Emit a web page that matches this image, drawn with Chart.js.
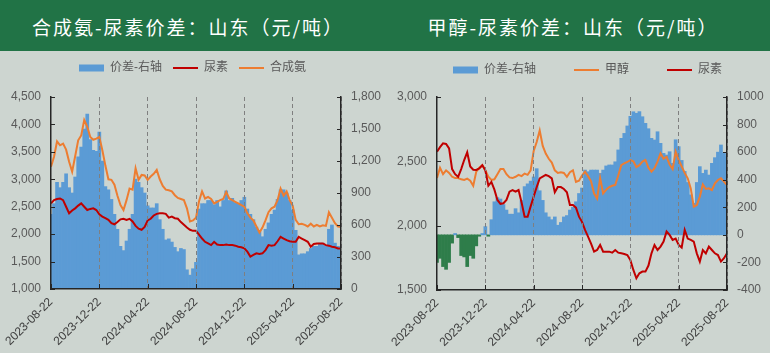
<!DOCTYPE html>
<html>
<head>
<meta charset="utf-8">
<script src="https://cdn.jsdelivr.net/npm/chart.js@4.4.1/dist/chart.umd.min.js"></script>
<style>
  html, body { margin: 0; padding: 0; background: #CDD5D0; }
  #page { position: relative; width: 770px; height: 353px; overflow: hidden; }
  .head { position: absolute; left: 0; top: 0; width: 770px; height: 51px; background: #217346; }
  .title { position: absolute; top: 0; width: 376px; height: 51px; text-align: center; color: #fff;
           font-family: "Noto Sans CJK SC", sans-serif; font-size: 19px; line-height: 54px; letter-spacing: 2px; }
  canvas { position: absolute; top: 51px; }
</style>
</head>
<body>
<div id="page">
  <div class="head">
    <div class="title" style="left:0">合成氨-尿素价差：山东（元/吨）</div>
    <div class="title" style="left:385px">甲醇-尿素价差：山东（元/吨）</div>
  </div>
  <canvas id="left" width="385" height="302" style="left:0"></canvas>
  <canvas id="right" width="385" height="302" style="left:385px"></canvas>
</div>
<script>
// 4 points per month, 2023-08-22 .. 2025-08-22
const MONTHS = ['2023-08', '2023-09', '2023-10', '2023-11', '2023-12', '2024-01', '2024-02', '2024-03',
  '2024-04', '2024-05', '2024-06', '2024-07', '2024-08', '2024-09', '2024-10', '2024-11', '2024-12',
  '2025-01', '2025-02', '2025-03', '2025-04', '2025-05', '2025-06', '2025-07', '2025-08'];
const TICK_LABELS = ['2023-08-22', '2023-12-22', '2024-04-22', '2024-08-22', '2024-12-22', '2025-04-22', '2025-08-22'];

const CATEGORIES = [];
for (let m = 0; m < MONTHS.length - 1; m++) {
  CATEGORIES.push(MONTHS[m] + '-22', MONTHS[m] + '-28', MONTHS[m + 1] + '-07', MONTHS[m + 1] + '-14');
}
CATEGORIES.push(MONTHS[MONTHS.length - 1] + '-22');

// left chart: 合成氨 / 尿素 (left axis), 价差 (right axis)
const AMMONIA = [3230, 3410, 3690, 3620, 3650, 3540, 3320, 3140, 3420, 3710,
  3800, 4080, 3960, 3770, 3720, 3740, 3770, 3530, 3250, 3000,
  2990, 2900, 2700, 2530, 2440, 2620, 2830, 2810, 3200, 2990,
  3080, 3070, 2990, 3050, 3100, 3170, 3000, 2880, 2810, 2800,
  2780, 2710, 2660, 2640, 2620, 2470, 2230, 2250, 2300, 2600,
  2780, 2650, 2680, 2640, 2560, 2590, 2620, 2640, 2770, 2650,
  2620, 2590, 2560, 2530, 2500, 2380, 2300, 2250, 2140, 2030,
  2120, 2250, 2400, 2470, 2500, 2620, 2830, 2700, 2780, 2620,
  2520, 2260, 2180, 2190, 2170, 2140, 2190, 2140, 2170, 2140,
  2160, 2150, 2400, 2300, 2200, 2140, 2130];
const UREA_L = [2560, 2620, 2640, 2650, 2620, 2500, 2380, 2430, 2470, 2520,
  2560, 2500, 2440, 2460, 2470, 2440, 2360, 2320, 2290, 2260,
  2200, 2180, 2220, 2270, 2280, 2260, 2280, 2230, 2150, 2100,
  2080, 2130, 2250, 2280, 2340, 2370, 2380, 2380, 2370, 2300,
  2320, 2290, 2280, 2220, 2170, 2120, 2080, 2060, 2060, 1990,
  1920, 1860, 1830, 1800, 1860, 1810, 1800, 1800, 1810, 1800,
  1800, 1790, 1770, 1760, 1740, 1680, 1590, 1620, 1650, 1640,
  1650, 1710, 1800, 1790, 1800, 1870, 1950, 1920, 1890, 1870,
  1860, 1860, 1950, 1920, 1890, 1860, 1770, 1820, 1830, 1830,
  1830, 1800, 1790, 1770, 1760, 1740, 1740];
const SPREAD_L = [700, 800, 1000, 950, 1000, 1080, 950, 900, 1050, 1240,
  1330, 1500, 1640, 1400, 1300, 1290, 1470, 1200, 960, 930,
  840, 700, 560, 400, 360, 450, 560, 700, 1030, 1000,
  950, 900, 780, 760, 760, 800, 650, 560, 460, 470,
  440, 390, 350, 380, 370, 180, 130, 190, 250, 750,
  800, 800, 830, 830, 790, 830, 770, 830, 920, 830,
  850, 810, 800, 830, 860, 750, 700, 650, 580, 540,
  490, 560, 620, 700, 740, 840, 930, 930, 900, 830,
  740, 550, 320, 330, 330, 350, 380, 400, 400, 430,
  430, 400, 560, 600, 430, 400, 370];

// right chart: 甲醇 / 尿素 (left axis), 价差 (right axis)
const METHANOL = [2370, 2450, 2400, 2430, 2410, 2380, 2370, 2370, 2360, 2355,
  2365, 2350, 2310, 2420, 2450, 2470, 2430, 2380, 2355, 2360,
  2400, 2440, 2440, 2400, 2375, 2370, 2380, 2395, 2385, 2405,
  2395, 2430, 2580, 2650, 2740, 2620, 2560, 2520, 2490, 2430,
  2410, 2415, 2410, 2380, 2415, 2430, 2340, 2350, 2390, 2420,
  2385, 2345, 2250, 2210, 2370, 2250, 2280, 2300, 2310, 2316,
  2390, 2470, 2485, 2495, 2510, 2500, 2455, 2470, 2498, 2511,
  2450, 2420, 2446, 2498, 2562, 2520, 2536, 2475, 2440, 2575,
  2510, 2460, 2410, 2368, 2290, 2148, 2160, 2226, 2320, 2285,
  2290, 2277, 2329, 2355, 2368, 2342, 2316];
const UREA_R = [2575, 2610, 2640, 2635, 2600, 2440, 2400, 2380, 2440, 2510,
  2570, 2460, 2435, 2433, 2445, 2470, 2430, 2310, 2340, 2280,
  2200, 2170, 2174, 2200, 2264, 2277, 2264, 2277, 2180, 2070,
  2070, 2150, 2226, 2300, 2368, 2381, 2394, 2385, 2368, 2260,
  2300, 2300, 2285, 2260, 2160, 2160, 2140, 2070, 2030, 1967,
  1915, 1860, 1798, 1811, 1850, 1798, 1798, 1798, 1790, 1811,
  1790, 1785, 1780, 1772, 1734, 1656, 1591, 1630, 1643, 1643,
  1690, 1785, 1850, 1811, 1837, 1876, 1954, 1928, 1889, 1900,
  1850, 1830, 1967, 1900, 1889, 1876, 1785, 1721, 1811, 1785,
  1837, 1811, 1785, 1772, 1721, 1747, 1785];
const SPREAD_R = [-200, -170, -230, -250, -200, -60, 10, -20, -150, -160,
  -230, -150, -170, -80, -10, 10, 60, -10, 110, 240,
  270, 260, 220, 180, 150, 150, 190, 160, 250, 350,
  370, 390, 420, 480, 320, 250, 160, 130, 110, 130,
  70, 90, 130, 140, 180, 200, 240, 300, 340, 470,
  458, 470, 470, 470, 446, 470, 500, 507, 507, 530,
  616, 700, 736, 790, 860, 893, 882, 894, 857, 809,
  770, 700, 688, 748, 664, 591, 579, 603, 519, 690,
  640, 540, 460, 380, 290, 229, 380, 495, 446, 470,
  434, 519, 560, 600, 652, 591, 567];

const BLUE = '#5B9BD5', RED = '#C00000', ORANGE = '#ED7D31', GREEN = '#2E7D4A';
const AXIS = '#262626';

Chart.defaults.font.family = '"Liberation Sans", "Noto Sans CJK SC", sans-serif';
Chart.defaults.font.size = 12;

// short tick marks pointing into the plot
const innerTicks = {
  id: 'innerTicks',
  afterDraw(chart) {
    const { ctx, chartArea: a, scales } = chart;
    ctx.save();
    ctx.strokeStyle = AXIS;
    ctx.lineWidth = 1;
    ctx.beginPath();
    Object.values(scales).forEach(s => {
      s.ticks.forEach((t, i) => {
        if (s.axis === 'x') {
          if (!t.label) return;
          const x = Math.round(s.getPixelForTick(i)) + 0.5;
          ctx.moveTo(x, a.bottom);
          ctx.lineTo(x, a.bottom - 5);
        } else {
          const y = Math.round(s.getPixelForTick(i)) + 0.5;
          const x0 = s.position === 'left' ? a.left : a.right;
          ctx.moveTo(x0, y);
          ctx.lineTo(x0 + (s.position === 'left' ? 4 : -4), y);
        }
      });
    });
    ctx.stroke();
    ctx.restore();
  }
};

// fixed legend band height, optional sideways nudge
function legendBox(h, dx) {
  return {
    id: 'legendBox',
    beforeInit(chart) {
      const fit = chart.legend.fit;
      chart.legend.fit = function () { fit.call(this); this.height = h; };
    },
    afterLayout(chart) {
      chart.legend.left += dx;
      chart.legend.right += dx;
    }
  };
}

function lineSet(label, data, color, order) {
  return { type: 'line', label, data, borderColor: color, backgroundColor: color, borderWidth: 2,
    pointRadius: 0, pointHoverRadius: 0, pointBorderWidth: 2, pointStyle: 'line', tension: 0,
    yAxisID: 'y', order };
}

function spreadChart(id, o) {
  const last = CATEGORIES.length - 1;
  return new Chart(document.getElementById(id), {
    data: {
      labels: CATEGORIES,
      datasets: [{
        type: 'bar', label: '价差-右轴', data: o.spread, yAxisID: 'y1', order: 3,
        backgroundColor: c => (c.raw < 0 ? GREEN : BLUE), borderWidth: 0,
        barPercentage: 1, categoryPercentage: 1, pointStyle: 'rect'
      }].concat(o.lines)
    },
    options: {
      responsive: false,
      animation: false,
      layout: { padding: { top: o.top, left: 0, right: 0, bottom: 0 } },
      plugins: {
        tooltip: { enabled: false },
        legend: {
          position: 'top',
          labels: {
            usePointStyle: true, pointStyleWidth: 25, boxHeight: 7, padding: o.legendPad,
            color: '#595959', font: { size: 12 },
            sort: (a, b) => a.datasetIndex - b.datasetIndex,
            generateLabels: chart => Chart.defaults.plugins.legend.labels.generateLabels(chart).map(l => {
              if (l.datasetIndex === 0) { l.fillStyle = BLUE; l.strokeStyle = BLUE; }
              return l;
            })
          }
        }
      },
      scales: {
        x: {
          type: 'category', offset: false,
          afterFit: s => { s.height = o.xHeight; },
          grid: {
            offset: false, drawTicks: false, z: 1, lineWidth: 1,
            color: c => (c.tick && c.tick.label && c.index !== 0 && c.index !== last) ? '#7F7F7F' : 'rgba(0,0,0,0)'
          },
          border: { color: AXIS, width: 1.5, dash: [4, 3], z: 1 },
          ticks: {
            autoSkip: false, maxRotation: 45, minRotation: 45, padding: 6, color: '#404040',
            callback(v) { const l = this.getLabelForValue(v); return TICK_LABELS.includes(l) ? l : null; }
          }
        },
        y: {
          position: 'left', min: o.left[0], max: o.left[1],
          afterFit: s => { s.width = o.leftW; },
          grid: { display: false, drawTicks: false },
          border: { color: AXIS, width: 1.5, z: 1 },
          ticks: { stepSize: o.left[2], padding: 10, color: '#595959' }
        },
        y1: {
          position: 'right', min: o.right[0], max: o.right[1],
          afterFit: s => { s.width = o.rightW; },
          grid: { display: false, drawTicks: false },
          border: { color: AXIS, width: 1.5, z: 1 },
          ticks: Object.assign({ stepSize: o.right[2], padding: 10, color: '#595959' },
            o.plainRight ? { callback: v => String(v) } : {})
        }
      }
    },
    plugins: [innerTicks, legendBox(o.legendH, o.legendDx)]
  });
}

spreadChart('left', {
  spread: SPREAD_L,
  lines: [lineSet('尿素', UREA_L, RED, 1), lineSet('合成氨', AMMONIA, ORANGE, 2)],
  left: [1000, 4500, 500], right: [0, 1800, 300],
  top: 0, legendPad: 11, legendH: 46, legendDx: 0, xHeight: 64, leftW: 51, rightW: 44, plainRight: false
});

spreadChart('right', {
  spread: SPREAD_R,
  lines: [lineSet('甲醇', METHANOL, ORANGE, 2), lineSet('尿素', UREA_R, RED, 1)],
  left: [1500, 3000, 500], right: [-400, 1000, 200],
  top: -25, legendPad: 38, legendH: 71, legendDx: 10, xHeight: 63, leftW: 52, rightW: 43, plainRight: true
});
</script>
</body>
</html>
